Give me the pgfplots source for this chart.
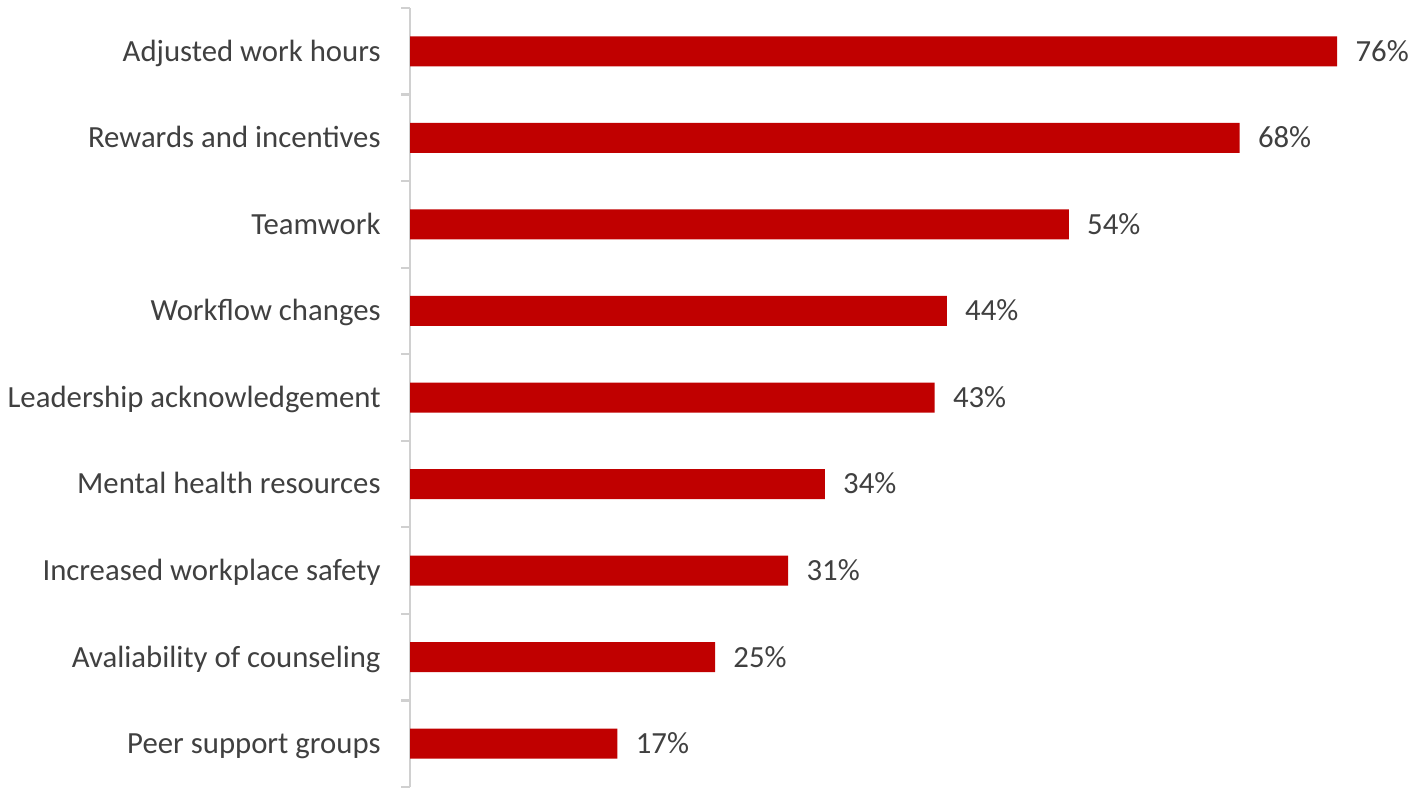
\documentclass[border=0pt]{standalone}
\usepackage{pgfplots}
\pgfplotsset{compat=1.18}
\usepackage{fontspec}
\setmainfont{Carlito}
\definecolor{barred}{HTML}{C00000}
\definecolor{txt}{HTML}{404040}
\definecolor{axgray}{HTML}{D0D0D0}
\begin{document}
\begin{tikzpicture}
\useasboundingbox (0,0) rectangle (14.18cm,-7.96cm);
\begin{axis}[
  at={(4.10cm,-0.08cm)}, anchor=north west,
  scale only axis,
  width=9.76cm, height=7.79cm,
  xbar, bar width=0.30cm,
  xmin=0, xmax=80,
  ymin=0.5, ymax=9.5,
  y dir=reverse,
  hide x axis,
  axis y line*=left,
  y axis line style={color=axgray, line width=0.65pt},
  ytick={1,...,9},
  major tick length=0pt,
  minor ytick={0.5,1.5,...,9.5},
  minor tick length=0.09cm,
  tick align=outside,
  minor tick style={color=axgray, line width=0.65pt},
  yticklabels={
    Adjusted work hours,
    Rewards and incentives,
    Teamwork,
    Workflow changes,
    Leadership acknowledgement,
    Mental health resources,
    Increased workplace safety,
    Avaliability of counseling,
    Peer support groups},
  yticklabel style={font=\fontsize{8.75}{10}\selectfont, text=txt,
    anchor=base east, xshift=-0.17cm, yshift=-2.8pt},
  /pgf/number format/assume math mode=true,
  nodes near coords={\pgfmathprintnumber\pgfplotspointmeta\%},
  nodes near coords style={font=\fontsize{8.75}{10}\selectfont, text=txt,
    anchor=base west, xshift=0.06cm, yshift=-2.8pt},
  point meta=x,
  clip=false,
]
\addplot[fill=barred, draw=none] coordinates {
  (76,1) (68,2) (54,3) (44,4) (43,5) (34,6) (31,7) (25,8) (17,9)
};
\end{axis}
\end{tikzpicture}
\end{document}
